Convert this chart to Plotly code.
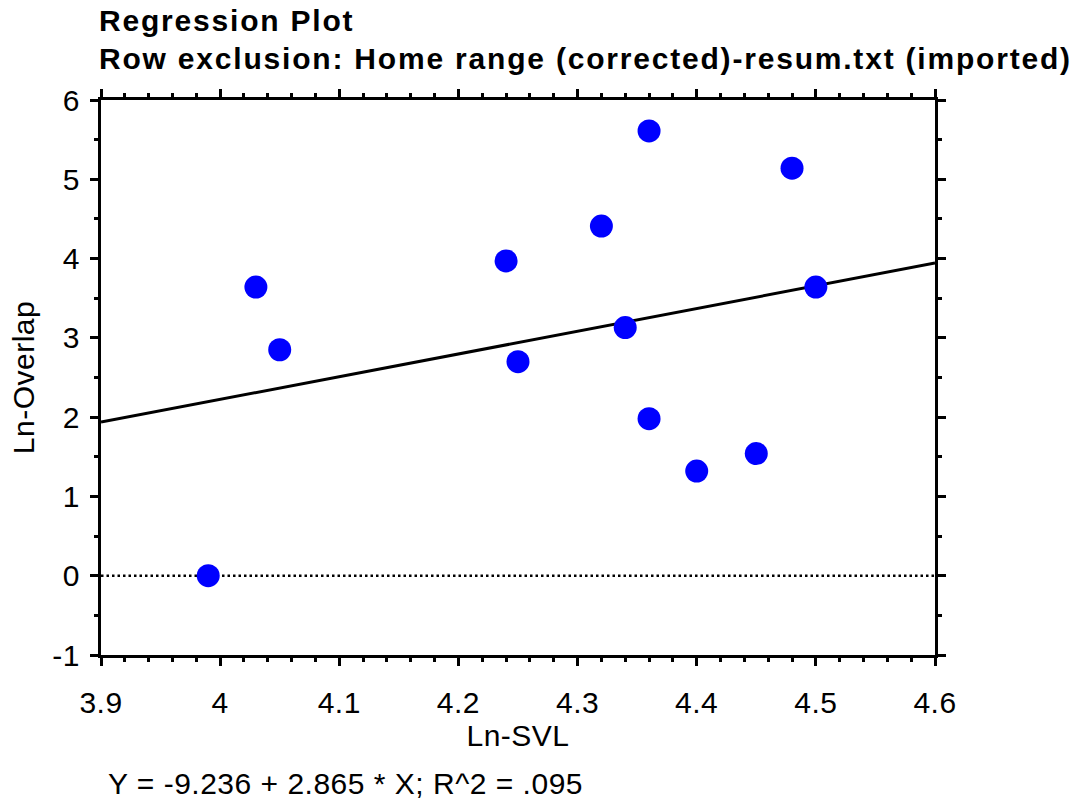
import numpy as np
import plotly.graph_objects as go

# ---- data ----
ln_svl = [3.99, 4.03, 4.05, 4.24, 4.25, 4.32, 4.34, 4.36, 4.36, 4.40, 4.45, 4.48, 4.50]
ln_overlap = [0.00, 3.64, 2.85, 3.97, 2.70, 4.41, 3.13, 5.61, 1.98, 1.32, 1.54, 5.14, 3.64]

intercept = -9.236
slope = 2.865
r_squared = ".095"

x_range = [3.9, 4.6]
y_range = [-1, 6]
x_ticks = [3.9, 4.0, 4.1, 4.2, 4.3, 4.4, 4.5, 4.6]
x_ticklabels = ["3.9", "4", "4.1", "4.2", "4.3", "4.4", "4.5", "4.6"]
y_ticks = [-1, 0, 1, 2, 3, 4, 5, 6]
y_ticklabels = ["-1", "0", "1", "2", "3", "4", "5", "6"]

title_line1 = "Regression Plot"
title_line2 = "Row exclusion: Home range (corrected)-resum.txt (imported)"
x_title = "Ln-SVL"
y_title = "Ln-Overlap"
equation = f"Y = {intercept} + {slope} * X; R^2 = {r_squared}"

FONT = "Liberation Sans, Arial, Helvetica, sans-serif"

fit_x = np.array(x_range)
fit_y = intercept + slope * fit_x

fig = go.Figure()
# zero reference line (dotted)
fig.add_trace(go.Scatter(x=x_range, y=[0, 0], mode="lines",
                         line=dict(color="black", width=2.5, dash="2.5px,3px"),
                         hoverinfo="skip", showlegend=False))
# regression line
fig.add_trace(go.Scatter(x=fit_x, y=fit_y, mode="lines",
                         line=dict(color="black", width=3),
                         showlegend=False))
# data points
fig.add_trace(go.Scatter(x=ln_svl, y=ln_overlap, mode="markers",
                         marker=dict(color="#0000FF", size=23, line=dict(width=0)),
                         showlegend=False))

axis_common = dict(
    showline=True, linecolor="black", linewidth=3, mirror="allticks",
    ticks="outside", ticklen=8, tickwidth=2.5, tickcolor="black",
    showgrid=False, zeroline=False,
    tickfont=dict(family=FONT, size=30, color="black"),
)

fig.update_xaxes(
    range=x_range, tickvals=x_ticks, ticktext=x_ticklabels,
    minor=dict(dtick=0.02, ticks="outside", ticklen=4, tickwidth=2.5, tickcolor="black"),
    ticklabelstandoff=11,
    title=dict(text=x_title, font=dict(family=FONT, size=30, color="black"), standoff=7),
    **axis_common,
)
fig.update_yaxes(
    range=y_range, tickvals=y_ticks, ticktext=y_ticklabels,
    minor=dict(dtick=0.5, ticks="outside", ticklen=4, tickwidth=2.5, tickcolor="black"),
    ticklabelstandoff=4,
    title=dict(text=y_title, font=dict(family=FONT, size=30, color="black"), standoff=10),
    **axis_common,
)

def py_to_paper(py):
    return (655 - py) / 555.0

def px_to_paper(px):
    return (px - 101) / 834.0

fig.update_layout(
    width=1078, height=802,
    margin=dict(l=101, r=143, t=100, b=147, pad=0),
    paper_bgcolor="white", plot_bgcolor="white",
    showlegend=False,
    annotations=[
        dict(text=f"<b>{title_line1}</b>", xref="paper", yref="paper",
             x=px_to_paper(97), y=py_to_paper(21), xanchor="left", yanchor="middle",
             align="left", showarrow=False,
             font=dict(family=FONT, size=30, color="black")),
        dict(text=f"<b>{title_line2}</b>", xref="paper", yref="paper",
             x=px_to_paper(97), y=py_to_paper(58), xanchor="left", yanchor="middle",
             align="left", showarrow=False,
             font=dict(family=FONT, size=30, color="black")),
        dict(text=equation, xref="paper", yref="paper",
             x=px_to_paper(106), y=py_to_paper(783), xanchor="left", yanchor="middle",
             align="left", showarrow=False,
             font=dict(family=FONT, size=30, color="black")),
    ],
)

post_script = """
var gd = document.getElementById('{plot_id}');
function applySpacing(){
  gd.querySelectorAll('.xtick text, .ytick text, .g-xtitle text, .g-ytitle text').forEach(function(t){
    t.style.letterSpacing = '0.5px';
  });
  gd.querySelectorAll('g.annotation').forEach(function(g){
    var idx = g.getAttribute('data-index');
    var sp = (idx === '0' || idx === '1') ? '1.8px' : '0.5px';
    g.querySelectorAll('text').forEach(function(t){ t.style.letterSpacing = sp; });
  });
}
applySpacing();
if (gd.on) { gd.on('plotly_afterplot', applySpacing); }
"""

fig.write_html("out.html", post_script=post_script)
